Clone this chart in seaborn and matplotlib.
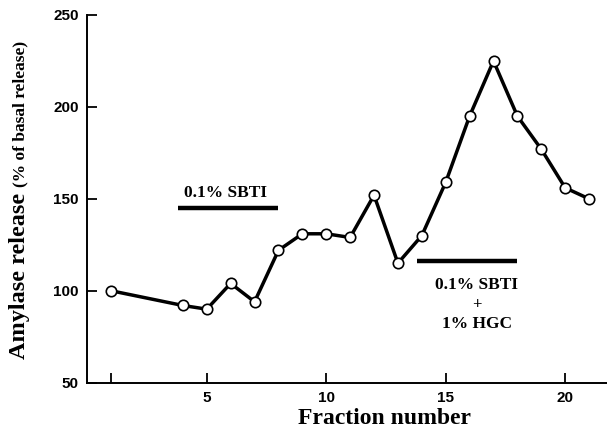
import matplotlib
matplotlib.use("Agg")
from matplotlib import pyplot as plt
import pandas as pd
import seaborn as sns

# fraction numbers and amylase release (% of basal)
fractions = [1, 4, 5, 6, 7, 8, 9, 10, 11, 12, 13, 14, 15, 16, 17, 18, 19, 20, 21]
release = [100, 92, 90, 104, 94, 122, 131, 131, 129, 152, 115, 130, 159, 195, 225, 195, 177, 156, 150]

# treatment bars: (start, end, level)
sbti_bar = (3.8, 8.0, 145)
sbti_hgc_bar = (13.8, 18.0, 116)

x_major = [5, 10, 15, 20]
x_minor = [1]
y_ticks = [50, 100, 150, 200, 250]

sns.set_style("white", {"text.color": "black", "axes.labelcolor": "black",
                        "xtick.color": "black", "ytick.color": "black",
                        "xtick.bottom": True, "ytick.left": True})
df = pd.DataFrame({"fraction": fractions, "release": release})

W, H = 607, 429
fig = plt.figure(figsize=(W / 100, H / 100), dpi=100)
ax = fig.add_axes([87.3 / W, 1 - 382.7 / H, 1 - 87.3 / W, (382.7 - 15) / H])

sns.lineplot(data=df, x="fraction", y="release", ax=ax, color="black", linewidth=2.5,
             marker="o", markersize=7.5, markerfacecolor="white", markeredgecolor="black",
             markeredgewidth=1.2)

for bar in (sbti_bar, sbti_hgc_bar):
    ax.plot(bar[:2], [bar[2]] * 2, color="black", linewidth=3.2, solid_capstyle="butt")

serif = ["Liberation Serif", "DejaVu Serif"]
ax.text(5.8, 153, "0.1% SBTI", ha="center", va="center", fontsize=12.5, fontweight="bold", family=serif)
ax.text(16.3, 103, "0.1% SBTI", ha="center", va="center", fontsize=12.5, fontweight="bold", family=serif)
ax.text(16.3, 92, "+", ha="center", va="center", fontsize=12, fontweight="bold", family=serif)
ax.text(16.3, 82, "1% HGC", ha="center", va="center", fontsize=12.5, fontweight="bold", family=serif)

ax.set_xlim(0, 21.75)
ax.set_ylim(50, 250)
ax.set_xticks(x_major)
ax.set_xticks(x_minor, minor=True)
ax.set_yticks(y_ticks)
ax.tick_params(axis="both", which="both", direction="in", length=7, width=1.3)
ax.tick_params(axis="x", pad=6)
ax.tick_params(axis="y", pad=6)
for lab in ax.get_xticklabels() + ax.get_yticklabels():
    lab.set_fontfamily(["Liberation Sans", "DejaVu Sans"])
    lab.set_fontweight("bold")
    lab.set_fontsize(11)

sns.despine(ax=ax)
for side in ["left", "bottom"]:
    ax.spines[side].set_linewidth(1.4)
    ax.spines[side].set_color("black")

ax.set_xlabel("")
ax.set_ylabel("")
fig.text(385 / W, 1 - 418 / H, "Fraction number", ha="center", va="center",
         fontsize=17, fontweight="bold", family=serif)
fig.text(20 / W, 1 - 276 / H, "Amylase release", rotation=90, ha="center", va="center",
         fontsize=17.5, fontweight="bold", family=serif)
fig.text(20 / W, 1 - 114 / H, "(% of basal release)", rotation=90, ha="center", va="center",
         fontsize=12.5, fontweight="bold", family=serif)

fig.savefig("out.png", dpi=100)
